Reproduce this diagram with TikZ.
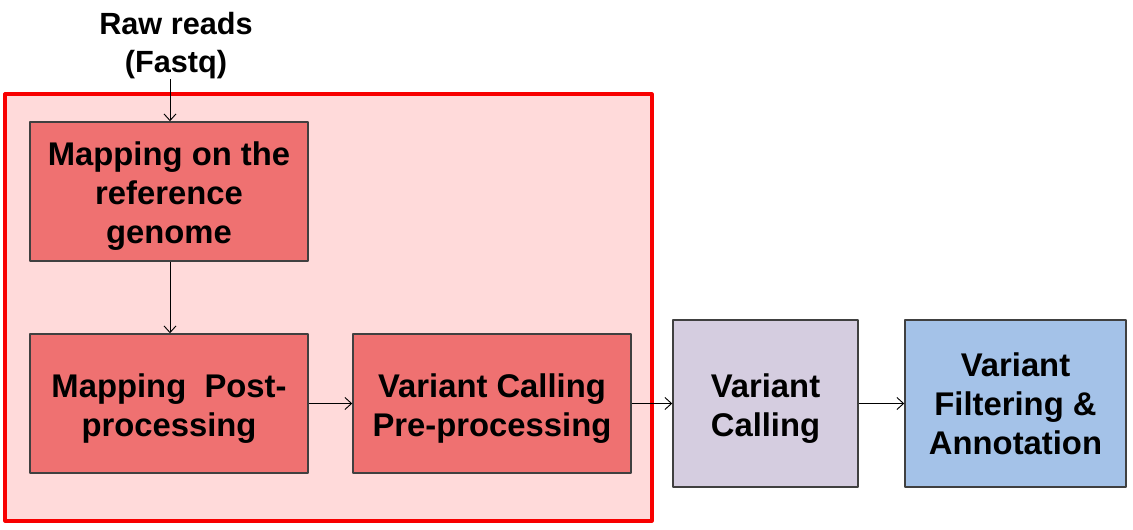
\documentclass[tikz,border=0pt]{standalone}
\usepackage{fontspec}
\setmainfont{Liberation Sans}
\usetikzlibrary{arrows.meta}
\definecolor{stagepink}{HTML}{FFDADA}
\definecolor{stagered}{HTML}{F80000}
\definecolor{boxred}{HTML}{EF7171}
\definecolor{boxlilac}{HTML}{D5CDE0}
\definecolor{boxblue}{HTML}{A4C2E8}
\definecolor{boxedge}{HTML}{404040}
\newcommand{\boxstrut}{\rule{0pt}{25pt}}
\begin{document}
\begin{tikzpicture}[x=0.75pt,y=-0.75pt,>={Straight Barb[length=5pt,width=9pt]},line join=round]
	\tikzset{
		stagebox/.style={draw=stagered,fill=stagepink,line width=2.4pt,minimum width=485.25pt,minimum height=320.25pt,inner sep=0pt},
		stepbox/.style={draw=boxedge,line width=1.1pt,inner sep=0pt,align=center,
			font=\fontsize{24.6}{29.2}\selectfont\bfseries},
		redbox/.style={stepbox,fill=boxred,minimum width=208.5pt,minimum height=104.25pt},
		flow/.style={->,line width=0.7pt}
	}
	\useasboundingbox (0,0) rectangle (1133,529);
	\node[stagebox] (stage) at (328.5,307.5) {};
	\node[font=\fontsize{23}{28.5}\selectfont\bfseries,align=center,inner sep=0pt] (raw) at (176,45.5) {Raw reads\\(Fastq)};
	\node[redbox] (map) at (169,191.5) {\boxstrut Mapping on the\\reference\\genome};
	\node[redbox] (post) at (169,403.5) {\boxstrut Mapping\ \ Post-\\processing};
	\node[redbox] (pre) at (492,403.5) {\boxstrut Variant Calling\\Pre-processing};
	\node[stepbox,fill=boxlilac,minimum width=138.75pt,minimum height=125.25pt] (call) at (765.5,403.5) {\boxstrut Variant\\Calling};
	\node[stepbox,fill=boxblue,minimum width=165.75pt,minimum height=125.25pt] (filt) at (1015.5,403.5) {Variant\\Filtering \&\\Annotation};
	% connectors
	\draw[flow] (raw.south -| map.north) ++(1,0) -- ([xshift=0.75pt]map.north);
	\draw[flow] ([xshift=0.75pt]map.south) -- ([xshift=0.75pt]post.north);
	\draw[flow] (post) -- (pre);
	\draw[flow] (pre) -- (call);
	\draw[flow] (call) -- (filt);
\end{tikzpicture}
\end{document}
